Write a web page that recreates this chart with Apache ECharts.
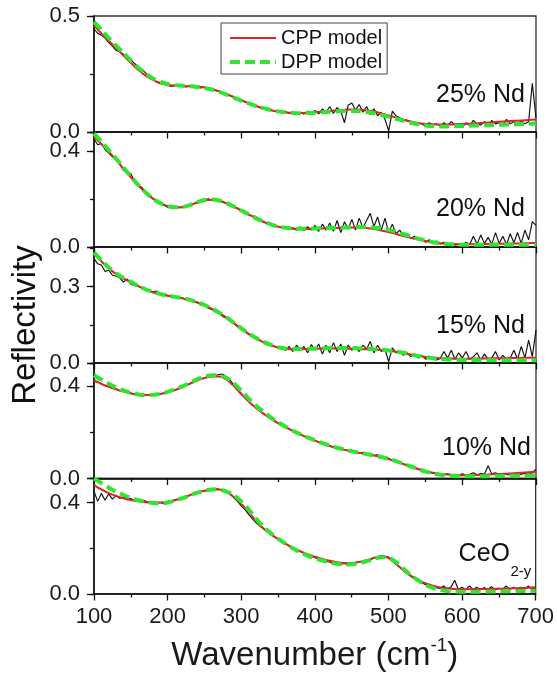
<!DOCTYPE html>
<html>
<head>
<meta charset="utf-8">
<script src="https://cdn.jsdelivr.net/npm/echarts@6/dist/echarts.min.js"></script>
<style>
html,body{margin:0;padding:0;background:#fff;}
#chart{width:557px;height:675px;}
</style>
</head>
<body>
<div id="chart"></div>
<script>
// Sampling grids (wavenumber, cm^-1)
const WN_DATA = Array.from({length:121},(_,i)=>100+5*i);   // measured spectra
const WN_MODEL = Array.from({length:61},(_,i)=>100+10*i);  // model curves

const PANEL_LABELS = ['25% Nd','20% Nd','15% Nd','10% Nd','CeO'];
const X_TICKS = [100,200,300,400,500,600,700];
const Y_MAX = [0.5,0.478,0.456,0.5,0.505];
const Y_LABEL_STEP = [0.5,0.4,0.3,0.4,0.4];

// ---- 25% Nd ----
const exp25 = [0.445,0.425,0.418,0.405,0.385,0.37,0.352,0.345,0.335,0.322,0.312,0.295,0.283,0.27,0.255,0.24,0.225,0.215,0.208,0.205,
0.2,0.198,0.2,0.195,0.201,0.194,0.199,0.192,0.196,0.19,0.193,0.186,0.187,0.178,0.176,0.168,0.166,0.155,0.153,0.142,
0.14,0.128,0.125,0.116,0.113,0.105,0.104,0.097,0.095,0.09,0.091,0.084,0.088,0.08,0.086,0.079,0.085,0.077,0.09,0.081,
0.093,0.078,0.1,0.085,0.11,0.08,0.105,0.09,0.04,0.115,0.125,0.095,0.118,0.085,0.11,0.075,0.1,0.07,0.085,0.055,
0.005,0.09,0.07,0.06,0.055,0.05,0.045,0.04,0.038,0.035,0.025,0.04,0.03,0.035,0.025,0.04,0.028,0.045,0.03,0.035,
0.02,0.04,0.028,0.05,0.035,0.03,0.045,0.025,0.05,0.035,0.04,0.03,0.055,0.035,0.045,0.03,0.05,0.035,0.045,0.21,0.06];
const cpp25 = [0.460,0.425,0.393,0.362,0.330,0.298,0.268,0.243,0.225,0.212,0.204,0.200,0.198,0.197,0.195,0.192,0.185,0.175,0.163,0.150,
0.137,0.124,0.112,0.102,0.094,0.088,0.084,0.082,0.082,0.083,0.085,0.088,0.091,0.094,0.096,0.097,0.096,0.093,0.088,0.080,
0.071,0.062,0.053,0.045,0.039,0.035,0.033,0.032,0.032,0.033,0.034,0.036,0.038,0.040,0.042,0.044,0.046,0.048,0.050,0.052,0.054];
const dpp25 = [0.475,0.440,0.405,0.372,0.340,0.308,0.278,0.252,0.231,0.216,0.207,0.202,0.199,0.197,0.194,0.190,0.183,0.173,0.161,0.148,
0.135,0.123,0.112,0.103,0.095,0.089,0.085,0.082,0.081,0.082,0.083,0.085,0.087,0.089,0.090,0.090,0.089,0.086,0.081,0.074,
0.066,0.057,0.048,0.040,0.033,0.028,0.025,0.024,0.024,0.025,0.026,0.027,0.028,0.029,0.030,0.031,0.032,0.033,0.034,0.035,0.037];

// ---- 20% Nd ----
const exp20 = [0.45,0.425,0.43,0.405,0.39,0.375,0.362,0.345,0.318,0.31,0.305,0.272,0.255,0.248,0.225,0.218,0.2,0.19,0.18,0.174,
0.165,0.168,0.16,0.166,0.165,0.17,0.172,0.18,0.183,0.19,0.193,0.2,0.194,0.196,0.188,0.19,0.18,0.176,0.165,0.162,
0.15,0.148,0.134,0.13,0.118,0.112,0.104,0.098,0.092,0.086,0.085,0.079,0.082,0.074,0.08,0.07,0.083,0.068,0.085,0.07,
0.09,0.065,0.095,0.07,0.1,0.065,0.11,0.06,0.105,0.075,0.115,0.07,0.12,0.08,0.11,0.14,0.085,0.125,0.07,0.12,
0.06,0.095,0.055,0.07,0.045,0.055,0.035,0.045,0.03,0.035,0.02,0.03,0.018,0.025,0.012,0.02,0.01,0.015,0.008,0.012,
0.006,0.02,0.01,0.045,0.012,0.05,0.015,0.04,0.012,0.06,0.015,0.045,0.01,0.055,0.018,0.06,0.015,0.07,0.03,0.105,0.09];
const cpp20 = [0.458,0.428,0.396,0.362,0.326,0.290,0.256,0.226,0.201,0.182,0.170,0.164,0.165,0.173,0.185,0.194,0.196,0.192,0.181,0.167,
0.151,0.135,0.119,0.105,0.093,0.084,0.079,0.076,0.075,0.075,0.076,0.077,0.078,0.079,0.080,0.081,0.081,0.079,0.075,0.069,
0.062,0.054,0.046,0.038,0.031,0.025,0.020,0.016,0.013,0.012,0.011,0.011,0.012,0.012,0.013,0.013,0.014,0.015,0.015,0.016,0.017];
const dpp20 = [0.472,0.438,0.403,0.367,0.330,0.293,0.258,0.227,0.201,0.182,0.170,0.165,0.166,0.174,0.186,0.195,0.197,0.193,0.182,0.168,
0.152,0.136,0.120,0.106,0.094,0.085,0.080,0.077,0.076,0.076,0.077,0.078,0.079,0.080,0.081,0.082,0.083,0.083,0.081,0.077,
0.071,0.063,0.054,0.044,0.035,0.027,0.020,0.015,0.012,0.010,0.009,0.009,0.009,0.009,0.009,0.009,0.009,0.009,0.009,0.009,0.009];

// ---- 15% Nd ----
const exp15 = [0.41,0.39,0.385,0.36,0.365,0.345,0.342,0.335,0.318,0.33,0.31,0.305,0.302,0.295,0.292,0.285,0.28,0.283,0.27,0.272,
0.265,0.262,0.26,0.255,0.256,0.248,0.25,0.24,0.24,0.228,0.23,0.215,0.21,0.2,0.196,0.182,0.176,0.162,0.155,0.142,
0.132,0.124,0.112,0.105,0.095,0.09,0.08,0.077,0.068,0.066,0.058,0.062,0.05,0.065,0.045,0.07,0.05,0.065,0.04,0.072,
0.05,0.075,0.035,0.07,0.04,0.08,0.045,0.075,0.03,0.07,0.05,0.065,0.045,0.07,0.055,0.085,0.04,0.07,0.045,0.055,
0.005,0.06,0.04,0.045,0.03,0.04,0.025,0.035,0.02,0.03,0.015,0.02,0.015,0.012,0.018,0.045,0.02,0.05,0.015,0.04,
0.02,0.045,0.015,0.025,0.04,0.012,0.035,0.015,0.02,0.045,0.012,0.03,0.015,0.02,0.05,0.015,0.065,0.02,0.09,0.025,0.13];
const cpp15 = [0.430,0.400,0.372,0.350,0.332,0.318,0.302,0.289,0.278,0.270,0.264,0.259,0.254,0.247,0.238,0.227,0.213,0.197,0.178,0.157,
0.135,0.115,0.097,0.082,0.070,0.061,0.056,0.054,0.054,0.055,0.056,0.057,0.057,0.057,0.057,0.056,0.055,0.054,0.053,0.051,
0.048,0.044,0.039,0.033,0.028,0.024,0.021,0.019,0.018,0.017,0.017,0.017,0.018,0.018,0.018,0.019,0.019,0.020,0.020,0.021,0.021];
const dpp15 = [0.435,0.404,0.375,0.352,0.334,0.319,0.303,0.290,0.279,0.271,0.265,0.260,0.255,0.248,0.239,0.228,0.214,0.198,0.179,0.158,
0.136,0.116,0.098,0.083,0.071,0.062,0.057,0.055,0.055,0.056,0.057,0.058,0.059,0.059,0.059,0.058,0.057,0.056,0.054,0.052,
0.049,0.045,0.040,0.034,0.028,0.023,0.019,0.016,0.014,0.013,0.012,0.012,0.011,0.011,0.011,0.011,0.011,0.011,0.011,0.011,0.011];

// ---- 10% Nd ----
const exp10 = [0.42,0.418,0.41,0.402,0.398,0.39,0.388,0.38,0.378,0.372,0.37,0.365,0.364,0.362,0.362,0.36,0.363,0.364,0.366,0.37,
0.372,0.378,0.382,0.39,0.395,0.403,0.41,0.418,0.425,0.43,0.436,0.44,0.443,0.447,0.45,0.452,0.44,0.425,0.405,0.385,
0.368,0.35,0.335,0.318,0.306,0.292,0.28,0.27,0.258,0.25,0.24,0.232,0.224,0.214,0.207,0.198,0.19,0.184,0.176,0.17,
0.164,0.158,0.153,0.146,0.142,0.137,0.133,0.128,0.124,0.122,0.116,0.118,0.11,0.112,0.105,0.108,0.1,0.103,0.096,0.09,
0.088,0.078,0.075,0.066,0.063,0.055,0.051,0.045,0.04,0.036,0.03,0.028,0.022,0.024,0.02,0.018,0.02,0.015,0.018,0.014,
0.02,0.015,0.018,0.025,0.016,0.022,0.018,0.055,0.02,0.025,0.016,0.02,0.018,0.015,0.02,0.016,0.019,0.022,0.018,0.025,0.04];
const cpp10 = [0.426,0.410,0.397,0.386,0.376,0.368,0.363,0.361,0.362,0.366,0.373,0.383,0.396,0.410,0.424,0.435,0.442,0.442,0.428,0.400,
0.365,0.333,0.305,0.281,0.259,0.239,0.222,0.206,0.191,0.177,0.164,0.152,0.141,0.132,0.124,0.117,0.111,0.105,0.099,0.092,
0.084,0.074,0.063,0.052,0.041,0.032,0.025,0.020,0.017,0.015,0.014,0.014,0.015,0.016,0.018,0.019,0.021,0.023,0.025,0.027,0.029];
const dpp10 = [0.447,0.428,0.410,0.394,0.381,0.371,0.364,0.361,0.362,0.367,0.375,0.386,0.399,0.414,0.429,0.441,0.447,0.446,0.435,0.412,
0.380,0.346,0.315,0.289,0.265,0.243,0.224,0.207,0.192,0.178,0.165,0.153,0.142,0.133,0.125,0.118,0.112,0.106,0.100,0.093,
0.085,0.075,0.064,0.052,0.040,0.030,0.022,0.016,0.013,0.011,0.010,0.010,0.010,0.010,0.010,0.011,0.011,0.012,0.012,0.013,0.014];

// ---- CeO2-y ----
const expCeO = [0.45,0.405,0.44,0.41,0.438,0.415,0.43,0.418,0.425,0.412,0.418,0.408,0.412,0.405,0.407,0.4,0.404,0.398,0.4,0.395,
0.403,0.405,0.412,0.415,0.42,0.427,0.432,0.437,0.44,0.448,0.45,0.455,0.452,0.462,0.458,0.455,0.445,0.44,0.42,0.405,
0.385,0.37,0.348,0.33,0.312,0.298,0.285,0.272,0.262,0.25,0.24,0.228,0.222,0.21,0.203,0.194,0.186,0.178,0.172,0.164,
0.16,0.152,0.148,0.142,0.14,0.134,0.137,0.13,0.134,0.128,0.138,0.134,0.142,0.14,0.15,0.148,0.158,0.16,0.168,0.165,
0.162,0.15,0.13,0.118,0.102,0.09,0.078,0.068,0.058,0.05,0.042,0.036,0.03,0.028,0.024,0.035,0.022,0.03,0.06,0.02,
0.03,0.018,0.035,0.02,0.03,0.018,0.028,0.02,0.032,0.018,0.025,0.02,0.035,0.02,0.03,0.018,0.03,0.02,0.035,0.02,0.03];
const cppCeO = [0.476,0.457,0.441,0.429,0.419,0.411,0.405,0.401,0.400,0.400,0.403,0.410,0.420,0.432,0.443,0.451,0.456,0.457,0.446,0.424,
0.394,0.360,0.320,0.288,0.262,0.240,0.220,0.202,0.187,0.174,0.163,0.153,0.145,0.139,0.136,0.136,0.140,0.148,0.158,0.165,
0.158,0.132,0.105,0.080,0.062,0.047,0.036,0.029,0.025,0.022,0.021,0.021,0.021,0.022,0.022,0.023,0.024,0.025,0.026,0.027,0.029];
const dppCeO = [0.505,0.485,0.465,0.448,0.433,0.420,0.410,0.403,0.398,0.396,0.400,0.408,0.419,0.431,0.443,0.452,0.457,0.456,0.448,0.432,
0.405,0.370,0.330,0.295,0.266,0.242,0.220,0.200,0.183,0.168,0.156,0.146,0.138,0.132,0.129,0.130,0.135,0.143,0.153,0.161,
0.158,0.140,0.112,0.083,0.060,0.041,0.027,0.018,0.013,0.011,0.010,0.010,0.010,0.010,0.011,0.011,0.012,0.012,0.013,0.013,0.014];

const EXP = [exp25, exp20, exp15, exp10, expCeO];
const CPP = [cpp25, cpp20, cpp15, cpp10, cppCeO];
const DPP = [dpp25, dpp20, dpp15, dpp10, dppCeO];

// ---- layout ----
const FONT = "'Liberation Sans', Arial, sans-serif";
const GRID_TOP = [16, 132, 247, 363, 478.5];
const GRID_H = [116, 115, 116, 115.5, 115.5];
const RED = '#e0202a', GREEN = '#2fe62f', BLACK = '#111';

const grids = [], xAxes = [], yAxes = [], series = [];
for (let i = 0; i < 5; i++) {
  grids.push({left: 94, width: 442, top: GRID_TOP[i], height: GRID_H[i], show: true,
    borderColor: '#333', borderWidth: 1.3, backgroundColor: 'transparent'});
  const last = i === 4;
  xAxes.push({
    type: 'value', gridIndex: i, min: 100, max: 700, interval: 100, position: 'bottom',
    axisLine: {show: true, lineStyle: {color: '#111', width: 1.5}},
    axisTick: {show: true, length: 6.5, lineStyle: {color: '#111', width: 1.3}},
    minorTick: {show: true, splitNumber: 2, length: 3.5, lineStyle: {color: '#111', width: 1.3}},
    splitLine: {show: false}, minorSplitLine: {show: false},
    axisLabel: {show: last, fontSize: 22, fontFamily: FONT, color: '#1a1a1a', margin: 12},
    name: last ? '{a|Wavenumber (cm}{b|-1}{a|)}' : '',
    nameLocation: 'middle', nameGap: 42,
    nameTextStyle: {rich: {
      a: {fontSize: 33, fontFamily: FONT, color: '#1a1a1a', lineHeight: 40},
      b: {fontSize: 19, fontFamily: FONT, color: '#1a1a1a', verticalAlign: 'top', lineHeight: 22}
    }}
  });
  const step = Y_LABEL_STEP[i];
  yAxes.push({
    type: 'value', gridIndex: i, min: 0, max: Y_MAX[i], interval: step, position: 'left',
    axisLine: {show: true, lineStyle: {color: '#111', width: 1.5}},
    axisTick: {show: true, length: 7, lineStyle: {color: '#111', width: 1.3}},
    splitLine: {show: false},
    axisLabel: {fontSize: 22, fontFamily: FONT, color: '#1a1a1a', margin: 14,
      formatter: v => (Math.abs(v/step - Math.round(v/step)) < 1e-6) ? v.toFixed(1) : ''}
  });
  // minor tick axis (half steps)
  yAxes.push({
    type: 'value', gridIndex: i, min: 0, max: Y_MAX[i], interval: step/2, position: 'left', offset: 0,
    axisLine: {show: false}, axisLabel: {show: false}, splitLine: {show: false},
    axisTick: {show: true, length: 4, lineStyle: {color: '#111', width: 1.3}}
  });
  series.push({
    name: 'Experiment', type: 'line', xAxisIndex: i, yAxisIndex: 2*i,
    data: WN_DATA.map((w, j) => [w, EXP[i][j]]),
    showSymbol: false, symbol: 'none', lineStyle: {color: BLACK, width: 1.15}, itemStyle: {color: BLACK},
    z: 2, silent: true
  });
  series.push({
    name: 'CPP model', type: 'line', xAxisIndex: i, yAxisIndex: 2*i,
    data: WN_MODEL.map((w, j) => [w, CPP[i][j]]), smooth: 0.3,
    showSymbol: false, symbol: 'none', lineStyle: {color: RED, width: 2}, itemStyle: {color: RED},
    z: 3, silent: true
  });
  series.push({
    name: 'DPP model', type: 'line', xAxisIndex: i, yAxisIndex: 2*i,
    data: WN_MODEL.map((w, j) => [w, DPP[i][j]]), smooth: 0.3,
    showSymbol: false, symbol: 'none', lineStyle: {color: GREEN, width: 4, type: [10, 5]}, itemStyle: {color: GREEN},
    z: 4, silent: true
  });
}

const labelPos = [[525, 95], [525, 209], [525, 326], [531, 448]];
const graphics = [];
for (let i = 0; i < 4; i++) {
  graphics.push({type: 'text', x: labelPos[i][0], y: labelPos[i][1], z: 10,
    style: {text: PANEL_LABELS[i], font: '25px ' + FONT, fill: '#111', textAlign: 'right', textVerticalAlign: 'middle'}});
}
graphics.push({type: 'text', x: 510, y: 554, z: 10,
  style: {text: PANEL_LABELS[4], font: '25px ' + FONT, fill: '#111', textAlign: 'right', textVerticalAlign: 'middle'}});
graphics.push({type: 'text', x: 510.5, y: 572, z: 10,
  style: {text: '2-y', font: '15px ' + FONT, fill: '#111', textAlign: 'left', textVerticalAlign: 'middle'}});
graphics.push({type: 'text', x: 26, y: 325, rotation: Math.PI/2, z: 10,
  style: {text: 'Reflectivity', font: '33px ' + FONT, fill: '#111', textAlign: 'center', textVerticalAlign: 'middle'}});

const chart = echarts.init(document.getElementById('chart'), null, {renderer: 'canvas'});
chart.setOption({
  animation: false,
  backgroundColor: '#fff',
  grid: grids, xAxis: xAxes, yAxis: yAxes, series: series,
  legend: {
    data: [
      {name: 'CPP model', lineStyle: {width: 2, color: RED}},
      {name: 'DPP model', lineStyle: {width: 4, color: GREEN, type: [10, 5]}}
    ],
    orient: 'vertical', left: 221, top: 23,
    itemWidth: 46, itemHeight: 14, itemGap: 4, padding: [5, 5, 2, 7],
    itemStyle: {opacity: 0, borderWidth: 0},
    borderColor: '#444', borderWidth: 1, backgroundColor: '#fff',
    textStyle: {fontSize: 20, fontFamily: FONT, color: '#111'}, selectedMode: false
  },
  graphic: graphics
});
</script>
</body>
</html>
